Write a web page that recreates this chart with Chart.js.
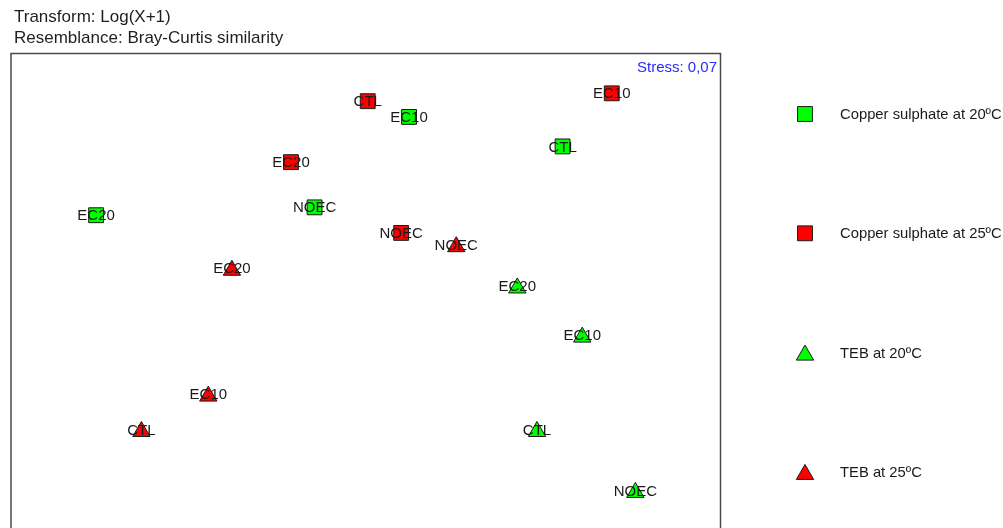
<!DOCTYPE html>
<html>
<head>
<meta charset="utf-8">
<script src="https://cdn.jsdelivr.net/npm/chart.js@4/dist/chart.umd.min.js"></script>
<style>
  html, body { margin: 0; padding: 0; background: #fff; overflow: hidden; }
  #wrap { width: 1003px; height: 570px; position: relative; }
</style>
</head>
<body>
<div id="wrap"><canvas id="c" width="1003" height="570"></canvas></div>
<script>
// ---- Data (nMDS coordinates) ----
const headerLines = ['Transform: Log(X+1)', 'Resemblance: Bray-Curtis similarity'];
const stressText = 'Stress: 0,07';
const seriesNames = ['Copper sulphate at 20ºC', 'Copper sulphate at 25ºC', 'TEB at 20ºC', 'TEB at 25ºC'];

const cs20Labels = ['EC10', 'CTL', 'NOEC', 'EC20'];
const cs20X = [0.22, 1.00, -0.26, -1.37];
const cs20Y = [0.88, 0.73, 0.42, 0.38];

const cs25Labels = ['CTL', 'EC10', 'EC20', 'NOEC'];
const cs25X = [0.01, 1.25, -0.38, 0.18];
const cs25Y = [0.96, 1.00, 0.65, 0.29];

const teb20Labels = ['EC20', 'EC10', 'CTL', 'NOEC'];
const teb20X = [0.77, 1.10, 0.87, 1.37];
const teb20Y = [0.01, -0.24, -0.72, -1.03];

const teb25Labels = ['NOEC', 'EC20', 'EC10', 'CTL'];
const teb25X = [0.46, -0.68, -0.80, -1.14];
const teb25Y = [0.22, 0.10, -0.54, -0.72];

// ---- Build datasets ----
const FONT = '"Liberation Sans", Arial, Helvetica, sans-serif';
function pts(xs, ys) { return xs.map((x, i) => ({ x: x, y: ys[i] })); }
const GREEN = '#00ff00', RED = '#ff0000';
const datasets = [
  { label: seriesNames[0], data: pts(cs20X, cs20Y), names: cs20Labels, pointStyle: 'rect', pointRadius: 10.5, backgroundColor: GREEN },
  { label: seriesNames[1], data: pts(cs25X, cs25Y), names: cs25Labels, pointStyle: 'rect', pointRadius: 10.5, backgroundColor: RED },
  { label: seriesNames[2], data: pts(teb20X, teb20Y), names: teb20Labels, pointStyle: 'triangle', pointRadius: 10, backgroundColor: GREEN },
  { label: seriesNames[3], data: pts(teb25X, teb25Y), names: teb25Labels, pointStyle: 'triangle', pointRadius: 10, backgroundColor: RED }
].map(d => Object.assign(d, { borderColor: '#1a1a1a', borderWidth: 1, pointHoverRadius: d.pointRadius, showLine: false }));

const decorPlugin = {
  id: 'decor',
  beforeDatasetsDraw(chart) {
    const ctx = chart.ctx, a = chart.chartArea;
    ctx.save();
    ctx.fillStyle = '#1f1f1f';
    ctx.font = '17px ' + FONT;
    ctx.textAlign = 'left';
    ctx.textBaseline = 'alphabetic';
    headerLines.forEach((t, i) => ctx.fillText(t, 14, 21.5 + i * 21.5));
    ctx.strokeStyle = '#4a4a4a';
    ctx.lineWidth = 1.5;
    ctx.strokeRect(a.left - 0.5, a.top - 0.5, a.right - a.left + 1, a.bottom - a.top + 1);
    ctx.fillStyle = '#2a2aff';
    ctx.font = '15px ' + FONT;
    ctx.textAlign = 'right';
    ctx.fillText(stressText, a.right - 3, a.top + 18);
    ctx.restore();
  },
  afterDatasetsDraw(chart) {
    const ctx = chart.ctx;
    ctx.save();
    ctx.fillStyle = '#1a1a1a';
    ctx.font = '15px ' + FONT;
    ctx.textAlign = 'center';
    ctx.textBaseline = 'middle';
    chart.data.datasets.forEach((ds, di) => {
      const meta = chart.getDatasetMeta(di);
      const dy = ds.pointStyle === 'triangle' ? -2 : 0;
      meta.data.forEach((el, i) => ctx.fillText(ds.names[i], el.x, el.y + dy + 1));
    });
    // legend
    chart.data.datasets.forEach((ds, di) => {
      const y = 114 + di * 119.3;
      const r = ds.pointRadius;
      const off = ds.pointStyle === 'triangle' ? r / 4 : 0;
      ctx.fillStyle = ds.backgroundColor;
      ctx.strokeStyle = ds.borderColor;
      ctx.lineWidth = 1;
      Chart.helpers.drawPoint(ctx, { pointStyle: ds.pointStyle, radius: r, rotation: 0, borderWidth: 1 }, 805, y + off);
      ctx.fillStyle = '#1a1a1a';
      ctx.font = '14.8px ' + FONT;
      ctx.textAlign = 'left';
      ctx.textBaseline = 'middle';
      ctx.fillText(ds.label, 840, y + 1);
    });
    ctx.restore();
  }
};

new Chart(document.getElementById('c'), {
  type: 'scatter',
  data: { datasets: datasets },
  options: {
    responsive: false,
    animation: false,
    devicePixelRatio: 1,
    layout: { padding: { left: 10, right: 283, top: 54, bottom: 10 } },
    plugins: { legend: { display: false }, title: { display: false }, tooltip: { enabled: false } },
    scales: {
      x: { type: 'linear', min: -1.8, max: 1.8, display: false },
      y: { type: 'linear', min: -1.366, max: 1.2, display: false }
    }
  },
  plugins: [decorPlugin]
});
</script>
</body>
</html>
